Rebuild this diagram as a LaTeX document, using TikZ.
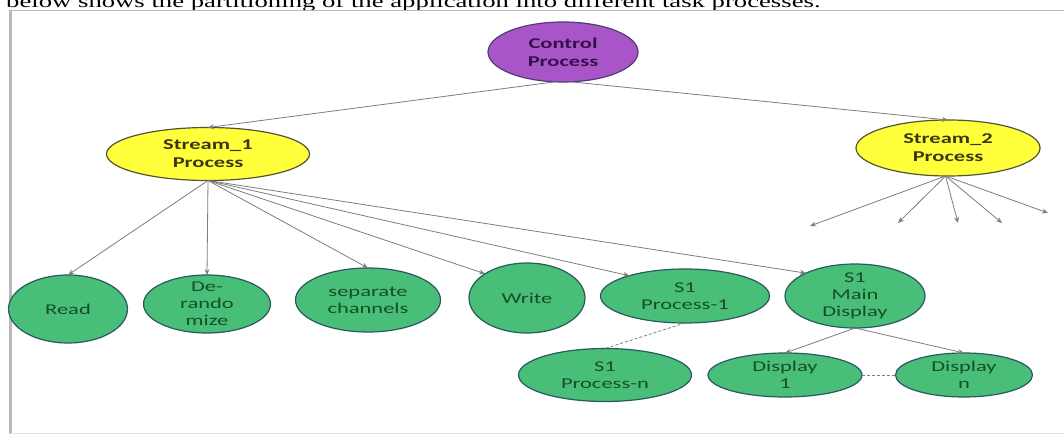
\documentclass[tikz,border=0pt]{standalone}
\usepackage{fontspec}
\usetikzlibrary{shapes.geometric,arrows.meta}
\newfontfamily\calfont[FakeStretch=1.5]{Carlito}
\newfontfamily\capfont[FakeStretch=1.5]{Liberation Serif}
\definecolor{purpfill}{RGB}{168,85,200}
\definecolor{purpdraw}{RGB}{80,60,120}
\definecolor{purptext}{RGB}{55,15,75}
\definecolor{yelfill}{RGB}{255,255,60}
\definecolor{yeldraw}{RGB}{80,85,50}
\definecolor{yeltext}{RGB}{60,55,15}
\definecolor{grnfill}{RGB}{72,190,120}
\definecolor{grndraw}{RGB}{40,90,95}
\definecolor{grntext}{RGB}{20,80,35}
\definecolor{linecol}{RGB}{125,125,125}
\tikzset{
  ell/.style args={#1x#2}{ellipse, inner sep=0pt, outer sep=0pt, line width=1.2pt,
    minimum width=#1, minimum height=#2},
  purpE/.style={ell=#1, fill=purpfill, draw=purpdraw},
  yelE/.style={ell=#1, fill=yelfill, draw=yeldraw},
  grnE/.style={ell=#1, fill=grnfill, draw=grndraw},
  headtxt/.style={align=center, inner sep=0pt,
    font=\calfont\bfseries\fontsize{15}{18}\selectfont},
  grntxt/.style={align=center, inner sep=0pt, text=grntext,
    font=\calfont\fontsize{15}{17}\selectfont},
  conn/.style={draw=linecol, line width=0.8pt, -{Stealth[length=6pt,width=5pt]}},
  dashconn/.style={draw=linecol, line width=0.8pt, dash pattern=on 3pt off 2pt}
}
\begin{document}
\begin{tikzpicture}[x=1pt,y=-1pt]
\useasboundingbox (0,0) rectangle (1064,435);

% caption line above the figure frame
\node[anchor=base west, inner sep=0pt, font=\capfont\fontsize{17.8}{20}\selectfont] (cap) at (6,8)
  {below shows the partitioning of the application into different task processes.};

% figure frame
\draw[gray!55, line width=1.3pt] (10,10.5) -- (1064,10.5);
\draw[gray!55, line width=3pt] (10,10) -- (10,434);
\draw[gray!22, line width=1pt] (10,433) -- (1064,433);

% top level
\node[purpE=150x60, label={[headtxt, text=purptext]center:Control\\Process}] (ctrl) at (563,52) {};
\node[yelE=203x53, label={[headtxt, text=yeltext]center:Stream\_1\\Process}] (s1) at (208,154) {};
\node[yelE=184x56, label={[headtxt, text=yeltext]center:Stream\_2\\Process}] (s2) at (948,148) {};

% stream 1 tasks
\node[grnE=119x68, label={[grntxt]center:Read}] (read) at (68,309) {};
\node[grnE=127x58, label={[grntxt]center:De-\\rando\\mize}] (derand) at (207,304) {};
\node[grnE=145x64, label={[grntxt]center:separate\\channels}] (sep) at (368,300) {};
\node[grnE=116x70, label={[grntxt]center:Write}] (write) at (527,298) {};
\node[grnE=169x54, label={[grntxt]center:S1\\Process-1}] (p1) at (685,296) {};
\node[grnE=140x64, label={[grntxt]center:S1\\Main\\Display}] (md) at (855,296) {};
\node[grnE=173x53, label={[grntxt]center:S1\\Process-n}] (pn) at (605,375) {};
\node[grnE=154x44, label={[grntxt]center:Display\\1}] (d1) at (785,375) {};
\node[grnE=137x44, label={[grntxt]center:Display\\n}] (dn) at (964,375) {};

% stream 2 open-ended children
\coordinate (e1) at (810,226);
\coordinate (e2) at (898,223);
\coordinate (e3) at (958,223);
\coordinate (e4) at (1002,223);
\coordinate (e5) at (1048,213);

% connectors
\draw[conn] (ctrl.255) -- (s1.north);
\draw[conn] (ctrl.285) -- (s2.north);
\draw[conn] (s1.south) -- (read.north);
\draw[conn] (s1.south) -- (derand.north);
\draw[conn] (s1.south) -- (sep.north);
\draw[conn] (s1.south) -- (write.150);
\draw[conn] (s1.south) -- (p1.160);
\draw[conn] (s1.south) -- (md.155);
\foreach \e in {e1,e2,e3,e4,e5} \draw[conn] (s2.265) -- (\e);
\draw[conn] (md.south) -- (d1.north);
\draw[conn] (md.south) -- (dn.north);
\draw[dashconn] (p1.south) -- (pn.north);
\draw[dashconn] (d1.east) -- (dn.west);
\end{tikzpicture}
\end{document}
